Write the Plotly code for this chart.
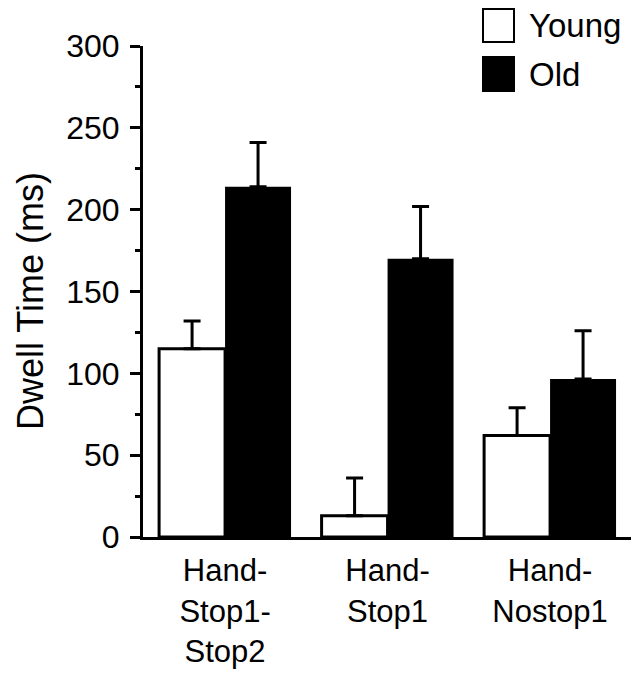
import plotly.graph_objects as go

categories = ["Hand-<br>Stop1-<br>Stop2", "Hand-<br>Stop1", "Hand-<br>Nostop1"]
young = [115, 13, 62]
young_err = [17, 23, 17]
old = [214, 170, 96.5]
old_err = [27, 32, 29.5]
y_ticks = [0, 50, 100, 150, 200, 250, 300]

FONT = "Liberation Sans, Arial, Helvetica, sans-serif"

fig = go.Figure()
fig.add_trace(go.Bar(
    x=categories, y=young, name="Young",
    marker=dict(color="white", line=dict(color="black", width=3)),
    error_y=dict(type="data", array=young_err, arrayminus=[0] * len(young_err),
                 symmetric=False, color="black", thickness=3, width=8.5),
    showlegend=False,
))
fig.add_trace(go.Bar(
    x=categories, y=old, name="Old",
    marker=dict(color="black", line=dict(color="black", width=0)),
    error_y=dict(type="data", array=old_err, arrayminus=[0] * len(old_err),
                 symmetric=False, color="black", thickness=3, width=8.5),
    showlegend=False,
))

# page body has an 8px margin, so the figure is 8px smaller and its plot area offset by -8
fig.update_layout(
    width=632, height=667,
    margin=dict(l=135, r=9, t=38, b=138),
    paper_bgcolor="white", plot_bgcolor="white",
    barmode="group", bargap=0.188, bargroupgap=0,
    font=dict(family=FONT, color="black"),
    xaxis=dict(
        range=[-0.505, 2.498], showline=True, linecolor="black", linewidth=3,
        ticks="", showgrid=False, zeroline=False, automargin=False,
        tickfont=dict(size=31, family=FONT, color="black"),
        ticklabelstandoff=4,
    ),
    yaxis=dict(
        range=[0, 300], tickvals=y_ticks, showline=True, linecolor="black", linewidth=3,
        ticks="outside", ticklen=10, tickwidth=3, tickcolor="black",
        showgrid=False, zeroline=False, automargin=False,
        tickfont=dict(size=32, family=FONT, color="black"),
        ticklabelstandoff=4,
        minor=dict(dtick=25, ticks="outside", ticklen=5, tickwidth=3, tickcolor="black", showgrid=False),
    ),
)

# y-axis title
fig.add_annotation(
    text="Dwell Time (ms)", textangle=-90, xref="paper", yref="paper",
    x=(30 - 143) / 488, y=(537 - 301) / 491, xanchor="center", yanchor="middle",
    showarrow=False, font=dict(size=36, family=FONT, color="black"),
)

# legend
legend_items = [("Young", "white", 9, 42, 25), ("Old", "black", 57, 91, 74)]
for label, fill, top, bottom, ymid in legend_items:
    fig.add_shape(
        type="rect", xref="paper", yref="paper",
        x0=(483 - 143) / 488, x1=(514 - 143) / 488,
        y0=(537 - bottom) / 491, y1=(537 - top) / 491,
        fillcolor=fill, line=dict(color="black", width=2),
    )
    fig.add_annotation(
        text=label, xref="paper", yref="paper",
        x=(527 - 143) / 488, y=(537 - ymid) / 491, xanchor="left", yanchor="middle",
        showarrow=False, font=dict(size=33, family=FONT, color="black"),
    )

fig.write_html("out.html")
